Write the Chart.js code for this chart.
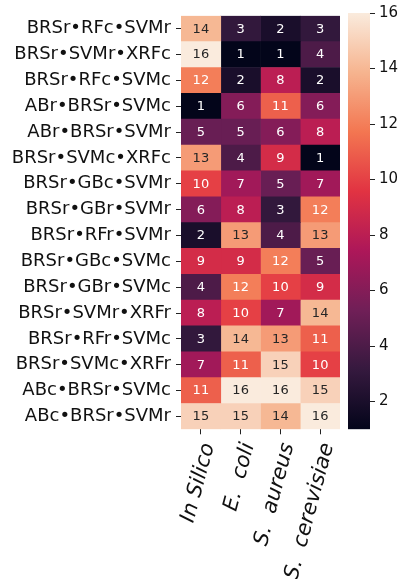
<!DOCTYPE html>
<html>
<head>
<meta charset="utf-8">
<script src="https://cdn.jsdelivr.net/npm/chart.js@4/dist/chart.umd.min.js"></script>
<style>
  html, body { margin: 0; padding: 0; background: #fff; }
  #wrap { position: relative; width: 401px; height: 579px; }
  #wrap canvas { position: absolute; left: 0; top: 0; }
</style>
</head>
<body>
<div id="wrap">
  <canvas id="heat" width="401" height="579"></canvas>
  <canvas id="cbar" width="401" height="579"></canvas>
</div>
<script>
// Rank of each pipeline per organism (rows top to bottom)
const rowLabels = [
    'BRSr•RFc•SVMr', 'BRSr•SVMr•XRFc', 'BRSr•RFc•SVMc', 'ABr•BRSr•SVMc',
    'ABr•BRSr•SVMr', 'BRSr•SVMc•XRFc', 'BRSr•GBc•SVMr', 'BRSr•GBr•SVMr',
    'BRSr•RFr•SVMr', 'BRSr•GBc•SVMc', 'BRSr•GBr•SVMc', 'BRSr•SVMr•XRFr',
    'BRSr•RFr•SVMc', 'BRSr•SVMc•XRFr', 'ABc•BRSr•SVMc', 'ABc•BRSr•SVMr'
];
const colLabels = ['In Silico', 'E.  coli', 'S.  aureus', 'S.  cerevisiae'];

const inSilico    = [14, 16, 12, 1, 5, 13, 10, 6, 2, 9, 4, 8, 3, 7, 11, 15];
const eColi       = [3, 1, 2, 6, 5, 4, 7, 8, 13, 9, 12, 10, 14, 11, 16, 15];
const sAureus     = [2, 1, 8, 11, 6, 9, 5, 3, 4, 12, 10, 7, 13, 15, 16, 14];
const sCerevisiae = [3, 4, 2, 6, 8, 1, 7, 12, 13, 5, 9, 14, 11, 10, 15, 16];

const vMin = 1;
const vMax = 16;
const cbarTicks = [2, 4, 6, 8, 10, 12, 14, 16];

// seaborn "rocket" colormap anchors
const rocketStops = ['#03051a', '#35193e', '#701f57', '#ad1759', '#e13342', '#f37651', '#f6b48f', '#faebdd'];

function hexToRgb(h) {
    return [parseInt(h.slice(1, 3), 16), parseInt(h.slice(3, 5), 16), parseInt(h.slice(5, 7), 16)];
}

function rocket(v) {
    let t = (v - vMin) / (vMax - vMin);
    t = Math.max(0, Math.min(1, t));
    const pos = t * (rocketStops.length - 1);
    const i = Math.min(Math.floor(pos), rocketStops.length - 2);
    const f = pos - i;
    const a = hexToRgb(rocketStops[i]);
    const b = hexToRgb(rocketStops[i + 1]);
    const c = a.map((x, k) => Math.round(x + (b[k] - x) * f));
    return `rgb(${c[0]}, ${c[1]}, ${c[2]})`;
}

const FONT = "'DejaVu Sans', sans-serif";
const TICK_COLOR = '#222';

const columns = [inSilico, eColi, sAureus, sCerevisiae];

// Cell annotations
const annotate = {
    id: 'annotate',
    afterDatasetsDraw(chart) {
        const ctx = chart.ctx;
        ctx.save();
        ctx.font = `13px ${FONT}`;
        ctx.textAlign = 'center';
        ctx.textBaseline = 'middle';
        chart.data.datasets.forEach((ds, di) => {
            const meta = chart.getDatasetMeta(di);
            meta.data.forEach((el, i) => {
                const v = ds.data[i].v;
                ctx.fillStyle = v >= 13 ? '#262626' : '#ffffff';
                ctx.fillText(String(v), (el.x + el.base) / 2, el.y + 0.5);
            });
        });
        ctx.restore();
    }
};

new Chart(document.getElementById('heat'), {
    type: 'bar',
    data: {
        labels: rowLabels,
        datasets: columns.map((vals, c) => ({
            label: colLabels[c],
            data: vals.map((v, r) => ({ x: [c, c + 1], y: rowLabels[r], v: v })),
            backgroundColor: ctx => rocket(ctx.raw.v),
            borderWidth: 0,
            barPercentage: 1,
            categoryPercentage: 1,
            grouped: false
        }))
    },
    options: {
        indexAxis: 'y',
        responsive: false,
        animation: false,
        events: [],
        layout: { padding: { top: 11.7, right: 61, left: 0, bottom: 0 } },
        plugins: {
            legend: { display: false },
            tooltip: { enabled: false }
        },
        scales: {
            x: {
                type: 'linear',
                min: 0,
                max: columns.length,
                afterBuildTicks: scale => {
                    scale.ticks = colLabels.map((_, i) => ({ value: i + 0.5 }));
                },
                afterFit: scale => { scale.height = 149.7; },
                ticks: {
                    callback: (val, i) => colLabels[i],
                    minRotation: 75,
                    maxRotation: 75,
                    labelOffset: 8,
                    padding: 6,
                    color: '#111',
                    font: { family: FONT, size: 21, style: 'italic' }
                },
                grid: { drawOnChartArea: false, tickLength: 5, color: TICK_COLOR, lineWidth: 1 },
                border: { display: false }
            },
            y: {
                type: 'category',
                afterFit: scale => { scale.width = 181; },
                ticks: {
                    autoSkip: false,
                    padding: 5,
                    color: '#111',
                    font: { family: FONT, size: 18 }
                },
                grid: { drawOnChartArea: false, offset: false, tickLength: 5, color: TICK_COLOR, lineWidth: 1 },
                border: { display: false }
            }
        }
    },
    plugins: [annotate]
});

// Colorbar
new Chart(document.getElementById('cbar'), {
    type: 'bar',
    data: {
        labels: ['rank'],
        datasets: [{
            data: [[vMin, vMax]],
            backgroundColor: ctx => {
                const area = ctx.chart.chartArea;
                if (!area) return rocketStops[0];
                const g = ctx.chart.ctx.createLinearGradient(0, area.bottom, 0, area.top);
                rocketStops.forEach((c, i) => g.addColorStop(i / (rocketStops.length - 1), c));
                return g;
            },
            borderWidth: 0,
            barPercentage: 1,
            categoryPercentage: 1
        }]
    },
    options: {
        responsive: false,
        animation: false,
        events: [],
        layout: { padding: { top: 11.7, right: 0, left: 348, bottom: 149.7 } },
        plugins: {
            legend: { display: false },
            tooltip: { enabled: false }
        },
        scales: {
            x: { display: false },
            y: {
                position: 'right',
                min: vMin,
                max: vMax,
                afterBuildTicks: scale => {
                    scale.ticks = cbarTicks.map(v => ({ value: v }));
                },
                afterFit: scale => { scale.width = 31; },
                ticks: {
                    padding: 4,
                    color: '#111',
                    font: { family: FONT, size: 15 }
                },
                grid: { drawOnChartArea: false, tickLength: 5, color: TICK_COLOR, lineWidth: 1 },
                border: { display: false }
            }
        }
    }
});
</script>
</body>
</html>
